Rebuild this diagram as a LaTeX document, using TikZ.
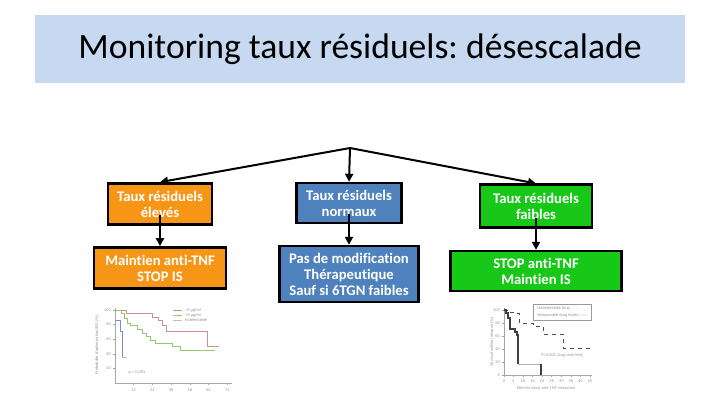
\documentclass[tikz,border=0pt]{standalone}
\usepackage{fontspec}
\setmainfont{Carlito}[Ligatures=NoCommon]
\newfontfamily\plotfont{Liberation Sans}
\usetikzlibrary{arrows.meta}
\frenchspacing

\definecolor{bandblue}{RGB}{198,217,241}
\definecolor{highorange}{RGB}{247,150,22}
\definecolor{normblue}{RGB}{79,129,189}
\definecolor{lowgreen}{RGB}{24,200,24}
\definecolor{curvepink}{RGB}{205,145,145}
\definecolor{curvegreen}{RGB}{150,200,110}
\definecolor{curveblue}{RGB}{125,135,215}

\begin{document}
\begin{tikzpicture}[x=0.75pt, y=-0.75pt,
  every node/.style={font=\fontsize{11}{12}\selectfont},
  band/.style={fill=bandblue, minimum width=487pt, minimum height=51pt, inner sep=0pt, font=\fontsize{26.7}{32}\selectfont},
  level/.style={draw, line width=1.8pt, align=center, text=white, inner sep=1pt, font=\fontsize{11}{12}\selectfont\bfseries},
  highbox/.style={level, fill=highorange},
  normbox/.style={level, fill=normblue},
  lowbox/.style={level, fill=lowgreen},
  link/.style={-{Triangle[length=6pt,width=6pt]}, line width=1.5pt},
  axis/.style={gray!70, line width=0.4pt},
  tiny/.style={font=\plotfont\fontsize{3}{3.5}\selectfont, text=gray!85, inner sep=0pt}
]
  \useasboundingbox (0,0) rectangle (720,405);

  \node[band] (title) at (360,49) {Monitoring taux résiduels: désescalade};

  \node[highbox, minimum width=78pt, minimum height=31pt] (high) at (160,204) {Taux résiduels\\élevés};
  \node[normbox, minimum width=79pt, minimum height=30pt] (norm) at (349,203) {Taux résiduels\\normaux};
  \node[lowbox, minimum width=84pt, minimum height=32pt] (low) at (536,206) {Taux résiduels\\faibles};

  \node[highbox, minimum width=99pt, minimum height=31pt] (keep) at (160,268) {Maintien anti-TNF\\STOP IS};
  \node[normbox, minimum width=104pt, minimum height=42pt] (same) at (349,274) {Pas de modification\\Thérapeutique\\Sauf si 6TGN faibles};
  \node[lowbox, minimum width=128pt, minimum height=30pt] (stop) at (536,271) {STOP anti-TNF\\Maintien IS};

  \coordinate (fork) at (350,148);
  \draw[link] (fork) -- (high.north);
  \draw[link] (fork) -- (norm.north);
  \draw[link] (fork) -- (low.north);

  \draw[link] ([yshift=8pt]high.south) -- (keep.north);
  \draw[link] ([yshift=8pt]norm.south) -- (same.north);
  \draw[link] ([yshift=8pt]low.south) -- (stop.north);

  % left plot
  \draw[axis] (115,308) -- (115,383) -- (232,383);
  \foreach \v in {20,40,60,80,100} {
    \draw[axis] (113,383-0.73*\v) -- (115,383-0.73*\v);
    \node[tiny, anchor=east] (ly\v) at (111,383-0.73*\v) {\v};
  }
  \foreach \m in {12,24,36,48,60,72} {
    \draw[axis] (115+1.56*\m,383) -- (115+1.56*\m,385);
    \node[tiny] (lx\m) at (115+1.56*\m,390) {\m};
  }
  \draw[curvepink, line width=0.6pt] (115,310) -- (126,310) -- (126,313) -- (152,313) -- (152,317) -- (158,317) -- (158,320) -- (162,320) -- (162,325) -- (166,325) -- (166,331) -- (207,331) -- (207,346) -- (219,346);
  \draw[curvegreen, line width=0.6pt] (115,310) -- (121,310) -- (121,313) -- (124,313) -- (124,318) -- (127,318) -- (127,323) -- (130,323) -- (130,325) -- (137,325) -- (137,329) -- (142,329) -- (142,333) -- (146,333) -- (146,336) -- (150,336) -- (150,340) -- (155,340) -- (155,343) -- (172,343) -- (172,346) -- (180,346) -- (180,350) -- (215,350);
  \draw[curveblue, line width=0.6pt] (115,320) -- (120,320) -- (120,331) -- (122,331) -- (122,357);
  \draw[gray!50, line width=0.6pt] (122,357) -- (127,357);
  \draw[curvepink, line width=0.6pt] (173,310) -- (182,310);
  \draw[curvegreen, line width=0.6pt] (173,315) -- (182,315);
  \draw[gray!50, line width=0.6pt] (173,320) -- (182,320);
  \node[tiny, anchor=west] (lk1) at (185,310) {>5 µg/ml};
  \node[tiny, anchor=west] (lk2) at (185,315) {<5 µg/ml};
  \node[tiny, anchor=west] (lk3) at (185,320) {Indétectable};
  \node[tiny] (lp) at (137,373) {p < 0,001};
  \node[tiny, rotate=90] (lylab) at (97,345) {Probabilité d'optimisation IBD (\%)};

  % right plot
  \draw[axis] (504,308) -- (504,375) -- (592,375);
  \foreach \v in {0,20,40,60,80,100} {
    \draw[axis] (502,375-0.65*\v) -- (504,375-0.65*\v);
    \node[tiny, anchor=east] (ry\v) at (500,375-0.65*\v) {\v};
  }
  \foreach \m in {0,5,...,45} {
    \draw[axis] (504+1.91*\m,375) -- (504+1.91*\m,377);
    \node[tiny] (rx\m) at (504+1.91*\m,381) {\m};
  }
  \draw[gray!80, line width=0.4pt] (533,304) rectangle (591,320);
  \node[tiny, anchor=west] (rk1) at (537,308) {Undetectable drug - - -};
  \node[tiny, anchor=west] (rk2) at (537,315) {Measurable drug levels ——};
  \draw[black!70, line width=0.6pt, dashed] (504,310) -- (509,310) -- (509,312) -- (513,312) -- (513,313) -- (519,313) -- (519,323) -- (533,323) -- (533,326) -- (543,326) -- (543,334) -- (563,334) -- (563,348) -- (592,348);
  \draw[black!75, line width=0.8pt] (504,310) -- (506,310) -- (506,313) -- (508,313) -- (508,318) -- (510,318) -- (510,329) -- (515,329) -- (515,332) -- (517,332) -- (517,335) -- (518,335) -- (518,364);
  \draw[gray!60, line width=0.6pt] (518,364) -- (541,364);
  \draw[black!75, line width=1pt] (541,364) -- (541,375);
  \node[tiny] (rp) at (562,355) {P<0.001 (Log rank test)};
  \node[tiny] (rxlab) at (546,388) {Months since anti-TNF cessation};
  \node[tiny, rotate=90] (rylab) at (492,342) {Survival without relapse (\%)};
\end{tikzpicture}
\end{document}
